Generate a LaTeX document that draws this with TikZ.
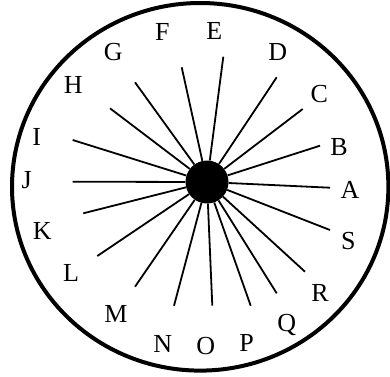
\documentclass[tikz,border=0pt]{standalone}
\usepackage{fontspec}
\setmainfont{Liberation Serif}
\usepackage{tikz}

\begin{document}
\begin{tikzpicture}[x=1pt,y=-1pt,
  rim/.style={line width=4pt},
  spoke/.style={line width=1.8pt},
  lbl/.style={inner sep=0pt,font=\fontsize{26}{26}\selectfont}]
\useasboundingbox (0,0) rectangle (390,376);
\draw[rim] (200.2,186.8) ellipse[x radius=188.2,y radius=183.8];
\node[circle,fill,minimum size=43pt,inner sep=0pt] (hub) at (207,182) {};
% outer ends of the spokes
\coordinate (eA) at (330,187.7);
\coordinate (eB) at (320,145.7);
\coordinate (eC) at (302.7,109);
\coordinate (eD) at (276.7,77.3);
\coordinate (eE) at (223.3,56.7);
\coordinate (eF) at (181.7,67.3);
\coordinate (eG) at (135,82.3);
\coordinate (eH) at (110,108.3);
\coordinate (eI) at (72.7,140);
\coordinate (eJ) at (72.7,181.7);
\coordinate (eK) at (83.3,213.3);
\coordinate (eL) at (97.3,256);
\coordinate (eM) at (135,286.7);
\coordinate (eN) at (174,305.7);
\coordinate (eO) at (212.3,305.7);
\coordinate (eP) at (250.7,305.7);
\coordinate (eQ) at (276.7,293.3);
\coordinate (eR) at (305,271.7);
\coordinate (eS) at (330,230);
\draw[spoke] (hub) -- (eA) (hub) -- (eB) (hub) -- (eC) (hub) -- (eD)
  (hub) -- (eE) (hub) -- (eF) (hub) -- (eG) (hub) -- (eH) (hub) -- (eI)
  (hub) -- (eJ) (hub) -- (eK) (hub) -- (eL) (hub) -- (eM) (hub) -- (eN)
  (hub) -- (eO) (hub) -- (eP) (hub) -- (eQ) (hub) -- (eR) (hub) -- (eS);
% letters round the rim
\node[lbl] (A) at (350,190) {A};
\node[lbl] (B) at (339,146.7) {B};
\node[lbl] (C) at (319.3,94) {C};
\node[lbl] (D) at (277.7,52.3) {D};
\node[lbl] (E) at (214.3,30.7) {E};
\node[lbl] (F) at (162.3,32.3) {F};
\node[lbl] (G) at (113.3,52.3) {G};
\node[lbl] (H) at (73.3,85) {H};
\node[lbl] (I) at (36.7,136.7) {I};
\node[lbl] (J) at (26.7,180) {J};
\node[lbl] (K) at (42.3,231) {K};
\node[lbl] (L) at (71,272.7) {L};
\node[lbl] (M) at (116,314.3) {M};
\node[lbl] (N) at (162.7,344.3) {N};
\node[lbl] (O) at (205.7,346) {O};
\node[lbl] (P) at (246.7,343.3) {P};
\node[lbl] (Q) at (286.7,325) {Q};
\node[lbl] (R) at (320,293.3) {R};
\node[lbl] (S) at (348.3,241) {S};
\end{tikzpicture}
\end{document}
